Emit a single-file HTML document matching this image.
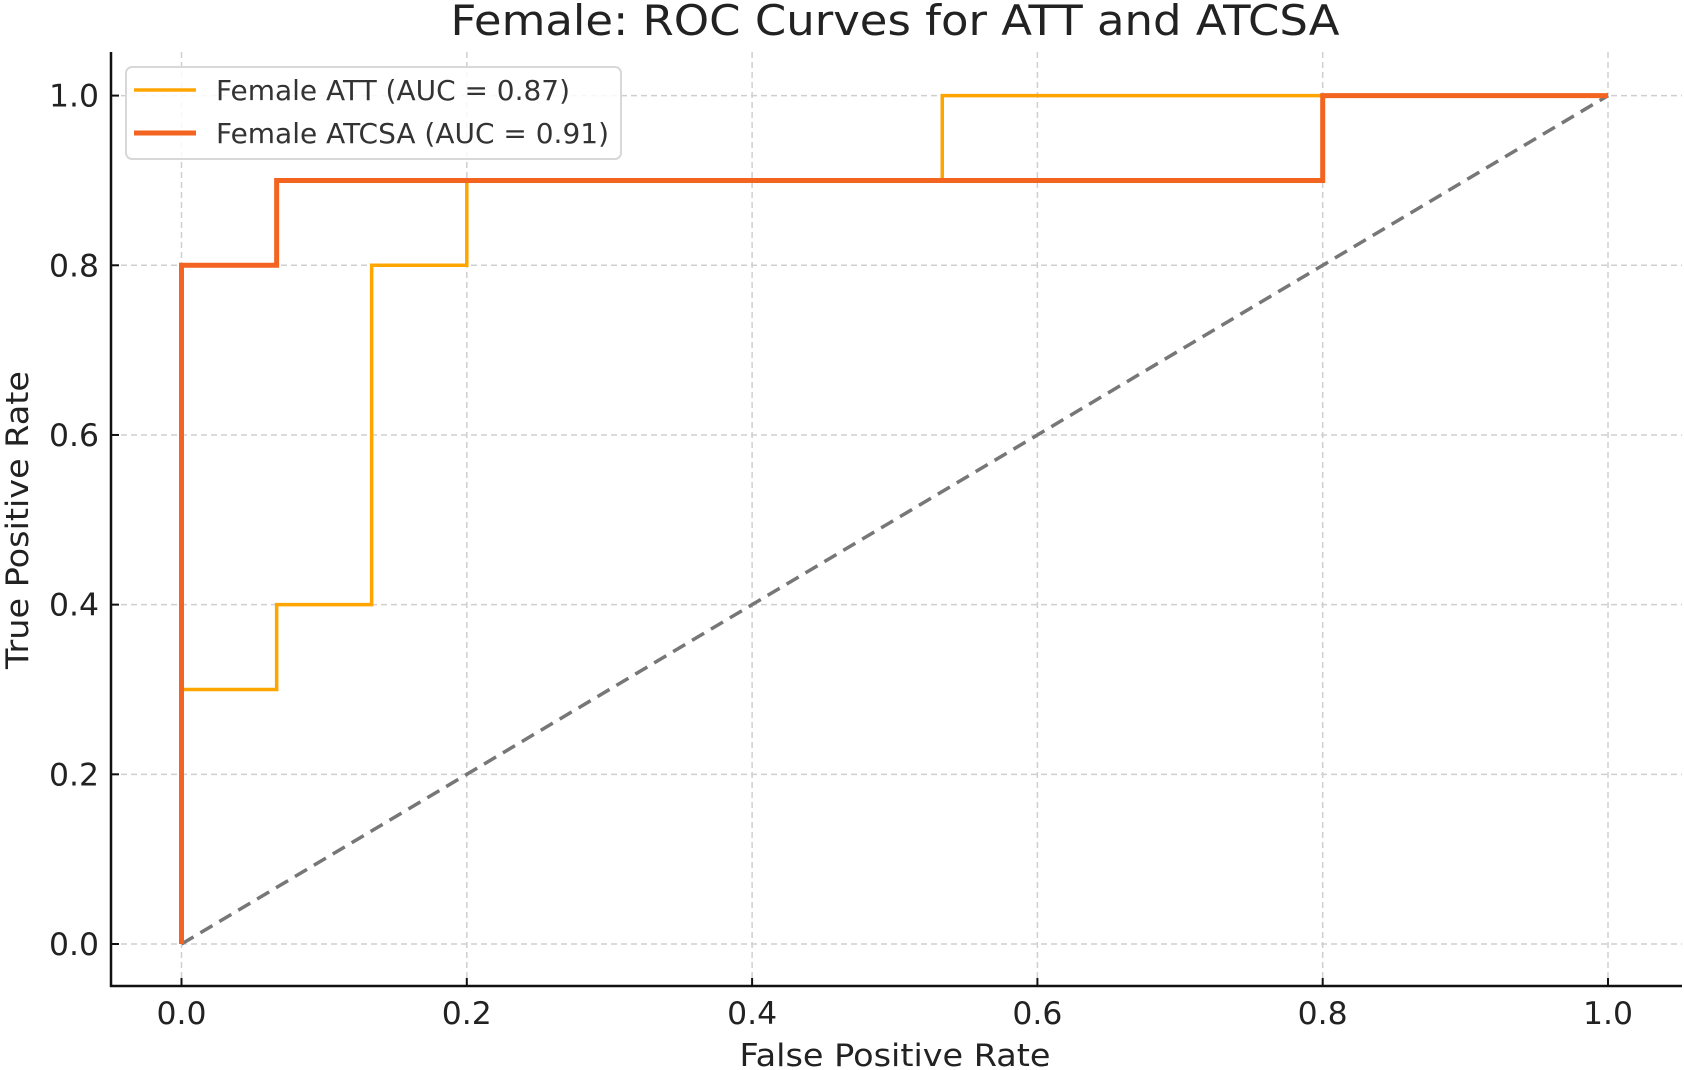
<!DOCTYPE html>
<html><head><meta charset="utf-8"><style>
html,body{margin:0;padding:0;background:#fff;}
svg{display:block;font-family:"DejaVu Sans","Liberation Sans",sans-serif;}
</style></head><body>
<svg id="chart" width="1684" height="1070" viewBox="0 0 1684 1070">
<text x="895" y="35" text-anchor="middle" font-size="42" fill="#222" textLength="889" lengthAdjust="spacingAndGlyphs">Female: ROC Curves for ATT and ATCSA</text>
<g id="grid"></g>
<g id="diag"></g>
<g id="series"></g>
<g id="axes"></g>
<text x="895" y="1066" text-anchor="middle" font-size="31" fill="#222" textLength="311" lengthAdjust="spacingAndGlyphs">False Positive Rate</text>
<text transform="translate(28,520) rotate(-90)" text-anchor="middle" font-size="31" fill="#222" textLength="298" lengthAdjust="spacingAndGlyphs">True Positive Rate</text>
<g>
<rect x="126" y="67" width="495" height="92" rx="6" fill="#fff" fill-opacity="0.85" stroke="#d8d8d8" stroke-width="2"/>
<line x1="134" y1="90" x2="196" y2="90" stroke="#FFA500" stroke-width="3.5"/>
<text x="216" y="100" font-size="28" fill="#333" textLength="354" lengthAdjust="spacingAndGlyphs">Female ATT (AUC = 0.87)</text>
<line x1="134" y1="133" x2="196" y2="133" stroke="#F26420" stroke-width="5"/>
<text x="216" y="143" font-size="28" fill="#333" textLength="393" lengthAdjust="spacingAndGlyphs">Female ATCSA (AUC = 0.91)</text>
</g>
</svg>
<script>
const xTicks = [0.0, 0.2, 0.4, 0.6, 0.8, 1.0];
const yTicks = [0.0, 0.2, 0.4, 0.6, 0.8, 1.0];
const attFpr = [0, 0, 0.0667, 0.0667, 0.1333, 0.1333, 0.2, 0.2, 0.5333, 0.5333, 1.0];
const attTpr = [0, 0.3, 0.3, 0.4, 0.4, 0.8, 0.8, 0.9, 0.9, 1.0, 1.0];
const atcsaFpr = [0, 0, 0.0667, 0.0667, 0.8, 0.8, 1.0];
const atcsaTpr = [0, 0.8, 0.8, 0.9, 0.9, 1.0, 1.0];
const diagX = [0, 1];
const diagY = [0, 1];

const NS = "http://www.w3.org/2000/svg";
const X0 = 181.5, X1 = 1608, Y0 = 944, Y1 = 95.6;
const sx = v => X0 + v * (X1 - X0);
const sy = v => Y0 + v * (Y1 - Y0);
function mk(tag, attrs, parent){const e=document.createElementNS(NS,tag);for(const k in attrs)e.setAttribute(k,attrs[k]);parent.appendChild(e);return e;}
const grid = document.getElementById('grid'), axes = document.getElementById('axes'), series = document.getElementById('series'), diag = document.getElementById('diag');
const L = 111, R = 1682, T = 52, B = 986;
xTicks.forEach(t => {
  const g = mk('line',{x1:sx(t),x2:sx(t),y1:T,y2:B,stroke:'#cfcfcf','stroke-width':1.5,'stroke-dasharray':'6,4'},grid);
  
  
  const tk = mk('line',{x1:sx(t),x2:sx(t),y1:B,y2:B-8,stroke:'#111','stroke-width':2},axes);
  
  
  const tx = mk('text',{x:sx(t),y:1024,'text-anchor':'middle','font-size':31,fill:'#222',textLength:50,lengthAdjust:'spacingAndGlyphs'},axes);
  tx.textContent = t.toFixed(1);
  
  
});
yTicks.forEach(t => {
  const g = mk('line',{x1:L,x2:R,y1:sy(t),y2:sy(t),stroke:'#cfcfcf','stroke-width':1.5,'stroke-dasharray':'6,4'},grid);
  
  
  const tk = mk('line',{x1:L,x2:L+8,y1:sy(t),y2:sy(t),stroke:'#111','stroke-width':2},axes);
  
  
  const tx = mk('text',{x:99,y:sy(t)+11,'text-anchor':'end','font-size':31,fill:'#222',textLength:50,lengthAdjust:'spacingAndGlyphs'},axes);
  tx.textContent = t.toFixed(1);
  
  
});
const spL = mk('line',{x1:L,x2:L,y1:T,y2:B+1,stroke:'#111','stroke-width':2.5},axes);


const spB = mk('line',{x1:L-1,x2:R,y1:B,y2:B,stroke:'#111','stroke-width':2.5},axes);


const pts = (xs,ys) => xs.map((x,i)=>sx(x)+','+sy(ys[i])).join(' ');
const d = mk('polyline',{points:pts(diagX,diagY),fill:'none',stroke:'#777','stroke-width':3.5,'stroke-dasharray':'14,8'},diag);


const a = mk('polyline',{points:pts(attFpr,attTpr),fill:'none',stroke:'#FFA500','stroke-width':3.5},series);


const c = mk('polyline',{points:pts(atcsaFpr,atcsaTpr),fill:'none',stroke:'#F26420','stroke-width':5},series);


</script>
</body></html>
